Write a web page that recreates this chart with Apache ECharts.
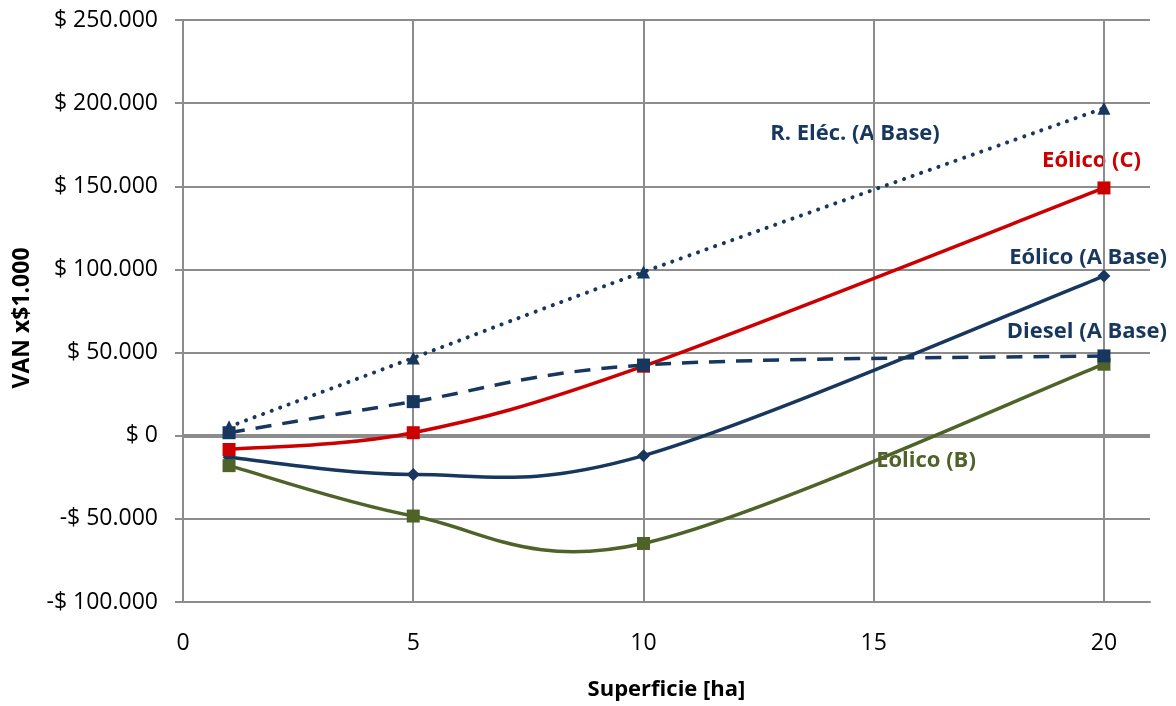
<!DOCTYPE html>
<html><head><meta charset="utf-8">
<script src="https://cdn.jsdelivr.net/npm/echarts@6/dist/echarts.min.js"></script>
<style>html,body{margin:0;padding:0;background:#fff}#c{width:1176px;height:706px}</style>
</head><body><div id="c"></div>
<script>
const xValues = [1, 5, 10, 20];
const xTicks = [0, 5, 10, 15, 20];
const rElec = [5400, 46800, 98500, 197000];
const diesel = [1800, 20500, 42500, 48000];
const eolicoC = [-8300, 1800, 41800, 149000];
const eolicoA = [-13000, -23300, -12000, 96000];
const eolicoB = [-18000, -48300, -64800, 43000];
const seriesNames = ['R. Eléc. (A Base)', 'Diesel (A Base)', 'Eólico (C)', 'Eólico (A Base)', 'Eólico (B)'];

const BLUE = '#17375E', RED = '#CC0000', GREEN = '#4F6228', GRID = '#8C8C8C';
const FONT = '"Open Sans", sans-serif';
const pts = arr => xValues.map((x, i) => [x, arr[i]]);
function fmt(v) {
  const a = Math.abs(v);
  const s = String(a).replace(/\B(?=(\d{3})+(?!\d))/g, '.');
  return (v < 0 ? '-' : '') + '$ ' + s;
}
// Smoothed curve (Excel-style Catmull-Rom Bezier) drawn through the axis scales
function curveSeries(name, arr, color, width, dash, z) {
  return {
    name: name, type: 'custom', data: pts(arr), z: z, silent: true,
    encode: {x: 0, y: 1},
    renderItem: function (params, api) {
      if (params.dataIndex !== 0) return null;
      const P = pts(arr).map(p => api.coord(p));
      const n = P.length;
      let d = 'M' + P[0][0] + ' ' + P[0][1];
      for (let i = 0; i < n - 1; i++) {
        const p0 = P[Math.max(i - 1, 0)], p1 = P[i], p2 = P[i + 1], p3 = P[Math.min(i + 2, n - 1)];
        const c1 = [p1[0] + (p2[0] - p0[0]) / 6, p1[1] + (p2[1] - p0[1]) / 6];
        const c2 = [p2[0] - (p3[0] - p1[0]) / 6, p2[1] - (p3[1] - p1[1]) / 6];
        d += ' C' + c1[0] + ' ' + c1[1] + ' ' + c2[0] + ' ' + c2[1] + ' ' + p2[0] + ' ' + p2[1];
      }
      return {
        type: 'path', shape: {pathData: d},
        style: {fill: null, stroke: color, lineWidth: width, lineDash: dash || null, lineCap: dash && dash[0] < 1 ? 'round' : 'butt'}
      };
    }
  };
}
function markerSeries(name, arr, color, symbol, size, z) {
  return {name: name, type: 'scatter', data: pts(arr), symbol: symbol, symbolSize: size, z: z, silent: true,
          itemStyle: {color: color, opacity: 1}};
}
const chart = echarts.init(document.getElementById('c'), null, {renderer: 'canvas'});
chart.setOption({
  animation: false,
  grid: {left: 183, top: 20, right: 26, bottom: 102, containLabel: false},
  xAxis: {
    type: 'value', min: 0, max: 21, interval: 5,
    axisLine: {show: true, onZero: false, lineStyle: {color: GRID, width: 2}},
    axisTick: {show: false},
    splitLine: {show: false},
    axisLabel: {color: '#000', fontSize: 23, fontFamily: FONT, margin: 30, showMaxLabel: false},
    name: 'Superficie [ha]', nameLocation: 'middle', nameGap: 77,
    nameTextStyle: {color: '#000', fontSize: 22, fontWeight: 'bold', fontFamily: FONT}
  },
  yAxis: {
    type: 'value', min: -100000, max: 250000, interval: 50000,
    axisLine: {show: true, lineStyle: {color: GRID, width: 2}},
    axisTick: {show: true, inside: false, length: 8, lineStyle: {color: GRID, width: 2}},
    splitLine: {show: true, lineStyle: {color: GRID, width: 2}},
    axisLabel: {color: '#000', fontSize: 23, fontFamily: FONT, margin: 25, formatter: fmt}
  },
  graphic: [
    {type: 'text', x: 22, y: 318, rotation: Math.PI / 2,
     style: {text: 'VAN x$1.000', fill: '#000', font: 'bold 23px ' + FONT, align: 'center', verticalAlign: 'middle'}},
    {type: 'text', x: 855, y: 134, style: {text: seriesNames[0], fill: BLUE, font: 'bold 22px ' + FONT, align: 'center', verticalAlign: 'middle'}},
    {type: 'text', x: 1141, y: 161, style: {text: seriesNames[2], fill: RED, font: 'bold 22px ' + FONT, align: 'right', verticalAlign: 'middle'}},
    {type: 'text', x: 1167, y: 258, style: {text: seriesNames[3], fill: BLUE, font: 'bold 22px ' + FONT, align: 'right', verticalAlign: 'middle'}},
    {type: 'text', x: 1167, y: 332, style: {text: seriesNames[1], fill: BLUE, font: 'bold 22px ' + FONT, align: 'right', verticalAlign: 'middle'}},
    {type: 'text', x: 926, y: 461, style: {text: seriesNames[4], fill: GREEN, font: 'bold 22px ' + FONT, align: 'center', verticalAlign: 'middle'}}
  ],
  series: [
    {type: 'line', data: [], silent: true,
     markLine: {silent: true, symbol: 'none', label: {show: false},
       lineStyle: {color: GRID, width: 2, type: 'solid'},
       data: xTicks.filter(v => v > 0).map(v => ({xAxis: v}))}},
    {type: 'line', data: [], silent: true,
     markLine: {silent: true, symbol: 'none', label: {show: false},
       lineStyle: {color: GRID, width: 4, type: 'solid'},
       data: [{yAxis: 0}]}},
    curveSeries(seriesNames[3], eolicoA, BLUE, 3.5, null, 10),
    markerSeries(seriesNames[3], eolicoA, BLUE, 'diamond', 13, 11),
    curveSeries(seriesNames[4], eolicoB, GREEN, 3.5, null, 12),
    markerSeries(seriesNames[4], eolicoB, GREEN, 'rect', 13, 13),
    curveSeries(seriesNames[2], eolicoC, RED, 3.5, null, 14),
    markerSeries(seriesNames[2], eolicoC, RED, 'rect', 13, 15),
    curveSeries(seriesNames[1], diesel, BLUE, 3.5, [16, 11], 16),
    markerSeries(seriesNames[1], diesel, BLUE, 'rect', 13, 17),
    curveSeries(seriesNames[0], rElec, BLUE, 4, [0.1, 9], 18),
    markerSeries(seriesNames[0], rElec, BLUE, 'triangle', 13, 19)
  ]
});
</script></body></html>
